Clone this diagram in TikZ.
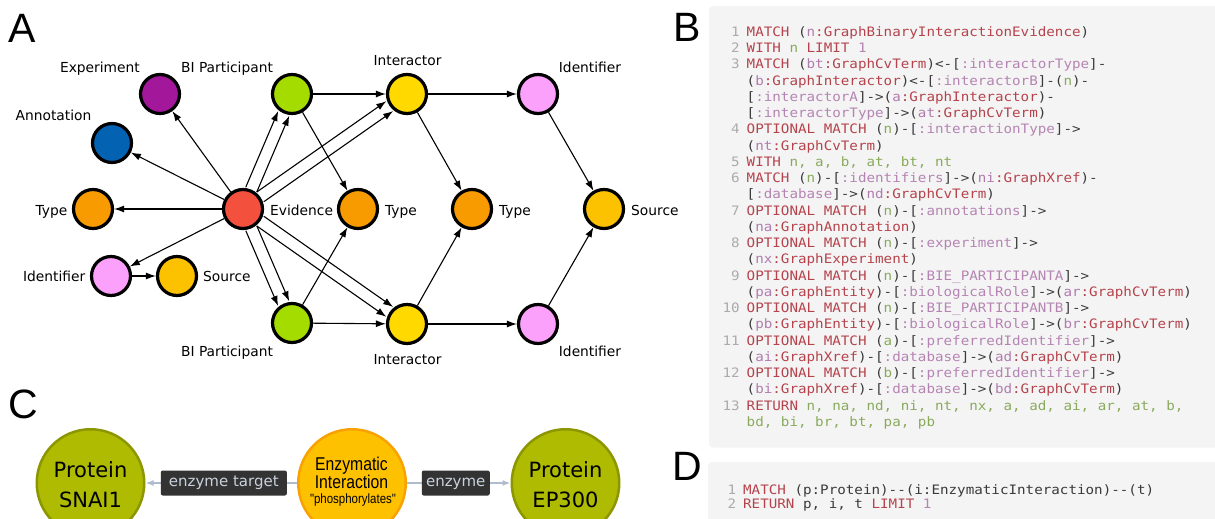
\documentclass[tikz,border=0pt]{standalone}
\usepackage{fontspec}
\setmonofont[FakeStretch=1.094]{DejaVu Sans Mono}
\newfontfamily\labf{DejaVu Sans}
\newfontfamily\panf{Liberation Sans}
\newfontfamily\narf[FakeStretch=0.85]{Liberation Sans}
\usetikzlibrary{arrows.meta}
\definecolor{cExp}{HTML}{A3179B}
\definecolor{cAnn}{HTML}{0462B3}
\definecolor{cType}{HTML}{F89B00}
\definecolor{cEv}{HTML}{F4503E}
\definecolor{cBI}{HTML}{A5DC00}
\definecolor{cInt}{HTML}{FFD900}
\definecolor{cId}{HTML}{FBA1FB}
\definecolor{cSrc}{HTML}{FCC200}
\definecolor{olv}{HTML}{AEBB00}
\definecolor{olvd}{HTML}{8B9600}
\definecolor{eiF}{HTML}{FEC100}
\definecolor{eiD}{HTML}{F8A100}
\definecolor{cline}{HTML}{AEBCCE}
\definecolor{lbox}{HTML}{333333}
\definecolor{ltext}{HTML}{C9D1DC}
\definecolor{codebg}{HTML}{F4F4F4}
\definecolor{kw}{HTML}{B5434C}
\definecolor{rel}{HTML}{B584B3}
\definecolor{vr}{HTML}{B07BAE}
\definecolor{grn}{HTML}{89AA5C}
\definecolor{pun}{HTML}{3A3A3A}
\definecolor{lnum}{HTML}{ABABAB}
\newcommand\cK[1]{\textcolor{kw}{#1}}
\newcommand\cG[1]{\textcolor{grn}{#1}}
\newcommand\cLn[1]{\textcolor{lnum}{#1}}
\newcommand\cNd[2]{(\textcolor{vr}{#1}\textcolor{kw}{:#2})}
\newcommand\cRel[1]{[\textcolor{rel}{:#1}]}
\begin{document}
\begin{tikzpicture}[x=1pt,y=-1pt,
  gn/.style={circle, draw=black, line width=3.2pt, minimum size=39pt, inner sep=0pt},
  lbl/.style={font=\labf\fontsize{13.8}{16}\selectfont, inner sep=0pt},
  edg/.style={-{Latex[length=10pt,width=7pt]}, line width=1.1pt},
  panel/.style={font=\panf\fontsize{41}{41}\selectfont, inner sep=0pt, anchor=base west},
  bignode/.style={circle, line width=2.5pt, minimum size=107.5pt, inner sep=0pt},
  ptext/.style={font=\labf\fontsize{21}{21}\selectfont, inner sep=0pt, anchor=base},
  etext/.style={font=\narf\fontsize{18.5}{18.5}\selectfont, inner sep=0pt, anchor=base},
  cedge/.style={draw=cline, line width=1.5pt, -{Latex[length=8pt,width=6pt]}},
  elab/.style={fill=lbox, rounded corners=2pt, minimum height=25pt, inner sep=0pt,
    text=ltext, font=\labf\fontsize{15}{15}\selectfont, text height=10.8pt, text depth=3.1pt},
  codef/.style={anchor=north west, inner sep=0pt, text=pun}
]
\useasboundingbox (0,0) rectangle (1215,519);

% ---------- Panel letters
\node[panel] (pA) at (8.5,43) {A};
\node[panel] (pB) at (673,42) {B};
\node[panel] (pC) at (8,418.5) {C};
\node[panel] (pD) at (672,480) {D};

% ---------- Panel A nodes
\node[gn, fill=cExp] (exp) at (160,94) {};
\node[gn, fill=cAnn] (ann) at (112,143) {};
\node[gn, fill=cType] (tyL) at (93,209) {};
\node[gn, fill=cEv] (ev) at (243,209) {};
\node[gn, fill=cId] (idL) at (111,276) {};
\node[gn, fill=cSrc] (srcL) at (177,276) {};
\node[gn, fill=cBI] (bi1) at (292,94) {};
\node[gn, fill=cBI] (bi2) at (292,323) {};
\node[gn, fill=cType] (ty1) at (358,209) {};
\node[gn, fill=cInt] (int1) at (407,94) {};
\node[gn, fill=cInt] (int2) at (407,324) {};
\node[gn, fill=cType] (ty2) at (472,209) {};
\node[gn, fill=cId] (id1) at (538,94) {};
\node[gn, fill=cId] (id2) at (538,324) {};
\node[gn, fill=cSrc] (srcR) at (604,209) {};

% labels
\node[lbl, anchor=base east] (tExp) at (140,72.7) {Experiment};
\node[lbl, anchor=base] (tBI1) at (227,72.7) {BI Participant};
\node[lbl, anchor=base] (tAnn) at (53.5,120.7) {Annotation};
\node[lbl, anchor=base] (tInt1) at (407.5,65.7) {Interactor};
\node[lbl, anchor=base] (tId1) at (590,72.7) {Identifier};
\node[lbl, anchor=base east] (tTyL) at (67.5,215) {Type};
\node[lbl, anchor=base west] (tEv) at (270,215) {Evidence};
\node[lbl, anchor=base west] (tTy1) at (385,215) {Type};
\node[lbl, anchor=base west] (tTy2) at (499,215) {Type};
\node[lbl, anchor=base west] (tSrcR) at (631,215) {Source};
\node[lbl, anchor=base east] (tIdL) at (85.5,281) {Identifier};
\node[lbl, anchor=base west] (tSrcL) at (203,281) {Source};
\node[lbl, anchor=base] (tBI2) at (227,356.7) {BI Participant};
\node[lbl, anchor=base] (tInt2) at (407.5,364) {Interactor};
\node[lbl, anchor=base] (tId2) at (590,356.7) {Identifier};

% edges
\draw[edg] (ev) -- (exp);
\draw[edg] (ev) -- (ann);
\draw[edg] (ev) -- (tyL);
\draw[edg] (ev) -- (idL);
\draw[edg] (idL) -- (srcL);
\draw[edg, transform canvas={shift={(-5.52,-2.35)}}] (ev) -- (bi1);
\draw[edg, transform canvas={shift={(5.52,2.35)}}] (ev) -- (bi1);
\draw[edg, transform canvas={shift={(-3.44,-4.91)}}] (ev) -- (int1);
\draw[edg, transform canvas={shift={(3.44,4.91)}}] (ev) -- (int1);
\draw[edg, transform canvas={shift={(-5.52,2.37)}}] (ev) -- (bi2);
\draw[edg, transform canvas={shift={(5.52,-2.37)}}] (ev) -- (bi2);
\draw[edg, transform canvas={shift={(-3.44,4.91)}}] (ev) -- (int2);
\draw[edg, transform canvas={shift={(3.44,-4.91)}}] (ev) -- (int2);
\draw[edg] (bi1) -- (int1);
\draw[edg] (bi1) -- (ty1);
\draw[edg] (bi2) -- (ty1);
\draw[edg] (bi2) -- (int2);
\draw[edg] (int1) -- (ty2);
\draw[edg] (int2) -- (ty2);
\draw[edg] (int1) -- (id1);
\draw[edg] (int2) -- (id2);
\draw[edg] (id1) -- (srcR);
\draw[edg] (id2) -- (srcR);

% ---------- Panel B
\fill[codebg, rounded corners=4pt] (709,6) rectangle (1230,447.5);
\node[codef, font=\ttfamily\fontsize{13}{16.25}\selectfont] (code) at (722.4,24.8) {%
\begin{tabular}{@{}r@{\hspace{7pt}}l@{}}
\cLn{1} & \cK{MATCH} \cNd{n}{GraphBinaryInteractionEvidence}\\
\cLn{2} & \cK{WITH} \cG{n} \cK{LIMIT} \textcolor{rel}{1}\\
\cLn{3} & \cK{MATCH} \cNd{bt}{GraphCvTerm}<-\cRel{interactorType}-\\
 & \cNd{b}{GraphInteractor}<-\cRel{interactorB}-(\cG{n})-\\
 & \cRel{interactorA}->\cNd{a}{GraphInteractor}-\\
 & \cRel{interactorType}->\cNd{at}{GraphCvTerm}\\
\cLn{4} & \cK{OPTIONAL MATCH} (\cG{n})-\cRel{interactionType}->\\
 & \cNd{nt}{GraphCvTerm}\\
\cLn{5} & \cK{WITH} \cG{n, a, b, at, bt, nt}\\
\cLn{6} & \cK{MATCH} (\cG{n})-\cRel{identifiers}->\cNd{ni}{GraphXref}-\\
 & \cRel{database}->\cNd{nd}{GraphCvTerm}\\
\cLn{7} & \cK{OPTIONAL MATCH} (\cG{n})-\cRel{annotations}->\\
 & \cNd{na}{GraphAnnotation}\\
\cLn{8} & \cK{OPTIONAL MATCH} (\cG{n})-\cRel{experiment}->\\
 & \cNd{nx}{GraphExperiment}\\
\cLn{9} & \cK{OPTIONAL MATCH} (\cG{n})-\cRel{BIE\_PARTICIPANTA}->\\
 & \cNd{pa}{GraphEntity}-\cRel{biologicalRole}->\cNd{ar}{GraphCvTerm}\\
\cLn{10} & \cK{OPTIONAL MATCH} (\cG{n})-\cRel{BIE\_PARTICIPANTB}->\\
 & \cNd{pb}{GraphEntity}-\cRel{biologicalRole}->\cNd{br}{GraphCvTerm}\\
\cLn{11} & \cK{OPTIONAL MATCH} (\cG{a})-\cRel{preferredIdentifier}->\\
 & \cNd{ai}{GraphXref}-\cRel{database}->\cNd{ad}{GraphCvTerm}\\
\cLn{12} & \cK{OPTIONAL MATCH} (\cG{b})-\cRel{preferredIdentifier}->\\
 & \cNd{bi}{GraphXref}-\cRel{database}->\cNd{bd}{GraphCvTerm}\\
\cLn{13} & \cK{RETURN} \cG{n, na, nd, ni, nt, nx, a, ad, ai, ar, at, b,}\\
 & \cG{bd, bi, br, bt, pa, pb}
\end{tabular}};

% ---------- Panel D
\fill[codebg, rounded corners=4pt] (708,462) rectangle (1230,530);
\node[codef, font=\ttfamily\fontsize{13}{14.3}\selectfont] (dcode) at (727.4,484) {%
\begin{tabular}{@{}r@{\hspace{7pt}}l@{}}
\cLn{1} & \cK{MATCH} (p:Protein)-{}-(i:EnzymaticInteraction)-{}-(t)\\
\cLn{2} & \cK{RETURN} p, i, t \cK{LIMIT} \textcolor{rel}{1}
\end{tabular}};

% ---------- Panel C
\node[bignode, fill=olv, draw=olvd] (p1) at (90.5,483) {};
\node[bignode, fill=eiF, draw=eiD] (ei) at (352,483) {};
\node[bignode, fill=olv, draw=olvd] (p2) at (565.5,483) {};
\node[ptext] (p1a) at (90.5,477) {Protein};
\node[ptext] (p1b) at (90.5,507) {SNAI1};
\node[ptext] (p2a) at (565.5,477) {Protein};
\node[ptext] (p2b) at (565.5,507) {EP300};
\node[etext] (eia) at (351.5,470.7) {Enzymatic};
\node[etext] (eib) at (351.5,488.3) {Interaction};
\node[font=\narf\fontsize{13.5}{13.5}\selectfont, inner sep=0pt, anchor=base] (eic) at (353,503.3) {"phosphorylates"};
\draw[cedge] (ei) -- node[elab, minimum width=126pt, pos=0.483] (l1) {enzyme target} (p1);
\draw[cedge] (ei) -- node[elab, minimum width=68pt, pos=0.471] (l2) {enzyme} (p2);
\end{tikzpicture}
\end{document}
